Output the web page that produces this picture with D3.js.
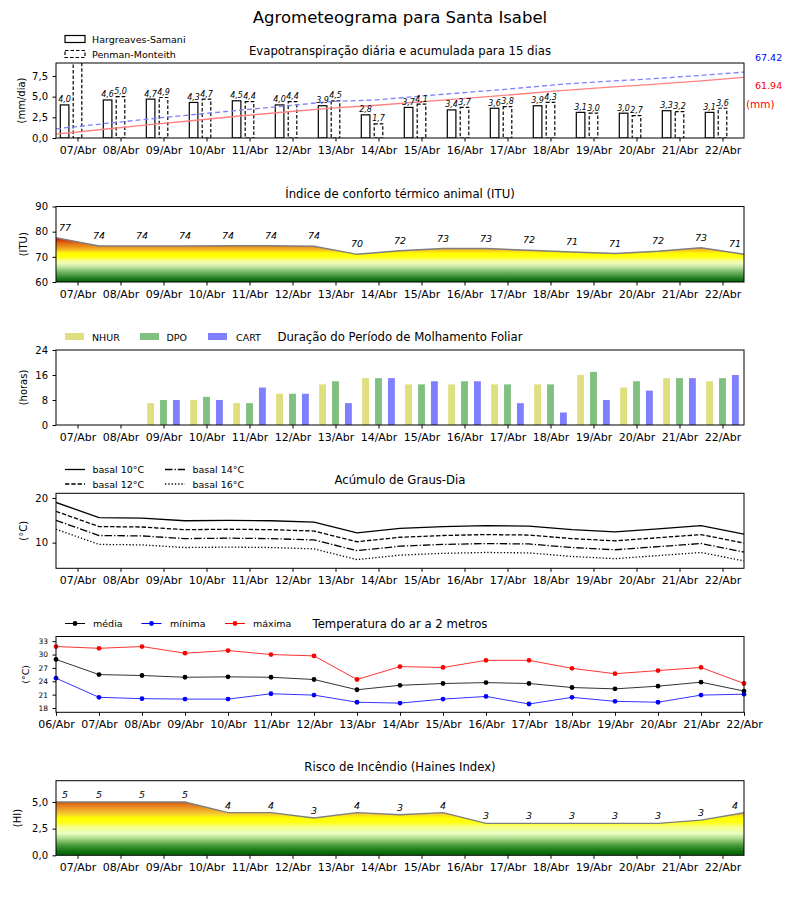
<!DOCTYPE html>
<html>
<head>
<meta charset="utf-8">
<script src="https://cdn.jsdelivr.net/npm/d3@7/dist/d3.min.js"></script>
<style>
  body { margin: 0; background: #fff; }
  text { font-family: "DejaVu Sans", sans-serif; }
</style>
</head>
<body>
<div id="chart"></div>
<script>
// day labels
const days = ["07/Abr", "08/Abr", "09/Abr", "10/Abr", "11/Abr", "12/Abr", "13/Abr", "14/Abr",
    "15/Abr", "16/Abr", "17/Abr", "18/Abr", "19/Abr", "20/Abr", "21/Abr", "22/Abr"];
const tempDays = ["06/Abr"].concat(days);

// evapotranspiration (mm/dia) and accumulated (mm)
const etHS = [4.0, 4.6, 4.7, 4.3, 4.5, 4.0, 3.9, 2.8, 3.7, 3.4, 3.6, 3.9, 3.1, 3.0, 3.3, 3.1];
const etPM = [9.4, 5.0, 4.9, 4.7, 4.4, 4.4, 4.5, 1.7, 4.1, 3.7, 3.8, 4.3, 3.0, 2.7, 3.2, 3.6];
const accHS = [4.0, 8.7, 13.5, 17.9, 22.5, 26.6, 30.6, 33.5, 37.3, 40.8, 44.5, 48.5, 51.7, 54.8, 58.2, 61.94];
const accPM = [9.4, 14.4, 19.3, 24.0, 28.4, 32.8, 37.3, 39.0, 43.1, 46.8, 50.6, 54.9, 57.9, 60.6, 63.8, 67.42];

// ITU (values at day boundaries)
const itu = [77.6, 74.3, 74.3, 74.3, 74.4, 74.4, 74.2, 71.0, 72.4, 73.3, 73.3, 72.6, 71.9, 71.3, 72.2, 73.6, 71.0];
const ituLabels = [77, 74, 74, 74, 74, 74, 74, 70, 72, 73, 73, 72, 71, 71, 72, 73, 71];

// leaf wetness (horas)
const nhur = [0, 0, 7, 8, 7, 10, 13, 15, 13, 13, 13, 13, 16, 12, 15, 14];
const dpo  = [0, 0, 8, 9, 7, 10, 14, 15, 13, 14, 13, 13, 17, 14, 15, 15];
const cart = [0, 0, 8, 8, 12, 10, 7, 15, 14, 14, 7, 4, 8, 11, 15, 16];

// degree-days (°C)
const gd10 = [19.0, 15.6, 15.5, 14.9, 15.0, 14.9, 14.6, 12.2, 13.2, 13.6, 13.8, 13.7, 12.9, 12.4, 13.1, 13.8, 11.9];
const gd12 = [17.0, 13.6, 13.5, 12.9, 13.0, 12.9, 12.6, 10.2, 11.2, 11.6, 11.8, 11.7, 10.9, 10.4, 11.1, 11.8, 9.9];
const gd14 = [15.0, 11.6, 11.5, 10.9, 11.0, 10.9, 10.6, 8.2, 9.2, 9.6, 9.8, 9.7, 8.9, 8.4, 9.1, 9.8, 7.9];
const gd16 = [13.0, 9.6, 9.5, 8.9, 9.0, 8.9, 8.6, 6.2, 7.2, 7.6, 7.8, 7.7, 6.9, 6.4, 7.1, 7.8, 5.9];

// air temperature (°C)
const tMed = [28.9, 25.5, 25.3, 24.9, 25.0, 24.9, 24.4, 22.1, 23.1, 23.5, 23.7, 23.5, 22.6, 22.3, 22.9, 23.8, 21.8];
const tMin = [24.7, 20.4, 20.1, 20.0, 20.0, 21.2, 20.9, 19.3, 19.1, 20.0, 20.6, 18.9, 20.4, 19.5, 19.3, 20.9, 21.1];
const tMax = [31.8, 31.4, 31.8, 30.3, 30.9, 30.0, 29.7, 24.4, 27.3, 27.1, 28.7, 28.7, 26.9, 25.7, 26.4, 27.1, 23.5];

// Haines index
const haines = [5.0, 5.0, 5.0, 5.0, 4.0, 4.0, 3.5, 4.0, 3.8, 4.0, 3.0, 3.0, 3.0, 3.0, 3.0, 3.3, 4.0];
const hainesLabels = [5, 5, 5, 5, 4, 4, 3, 4, 3, 4, 3, 3, 3, 3, 3, 3, 4];

const W = 800, H = 900, left = 56, right = 744;
const comma = d => d3.format(".1f")(d).replace(".", ",");

const svg = d3.select("#chart").append("svg")
    .attr("width", W)
    .attr("height", H);
const defs = svg.append("defs");

const x = d3.scaleLinear().domain([-0.5, 15.5]).range([left, right]);
const edge = i => i - 0.5; // points on day boundaries

svg.append("text")
    .attr("x", 400).attr("y", 23)
    .attr("text-anchor", "middle")
    .style("font-size", "16.5px")
    .text("Agrometeograma para Santa Isabel");

function makePanel(o) {
    const y = d3.scaleLinear().domain(o.domain).range([o.bottom, o.top]);
    const g = svg.append("g");
    const id = "clip" + o.top;
    defs.append("clipPath").attr("id", id)
        .append("rect")
        .attr("x", left).attr("y", o.top)
        .attr("width", right - left).attr("height", o.bottom - o.top);

    g.append("text")
        .attr("x", 400).attr("y", o.titleY)
        .attr("text-anchor", "middle")
        .style("font-size", "11.7px")
        .text(o.title);

    const yAxis = g.append("g")
        .attr("transform", `translate(${left},0)`)
        .call(d3.axisLeft(y).tickValues(o.ticks).tickFormat(o.fmt).tickSize(3.5).tickPadding(4.5));
    yAxis.select(".domain").remove();
    yAxis.selectAll("text").style("font-size", o.tickFont || "10px").attr("font-family", null);

    g.append("text")
        .attr("transform", `translate(${o.labelX},${(o.top + o.bottom) / 2}) rotate(-90)`)
        .attr("text-anchor", "middle")
        .style("font-size", o.labelFont || "10px")
        .text(o.label);

    const xAxis = g.append("g")
        .attr("transform", `translate(0,${o.bottom})`)
        .call(d3.axisBottom(x).tickValues(o.xTicks || d3.range(16))
            .tickFormat((d, i) => (o.xLabels || days)[i]).tickSize(3.5).tickPadding(4.5));
    xAxis.select(".domain").remove();
    xAxis.selectAll("text").style("font-size", "11px").attr("font-family", null);

    const plot = g.append("g").attr("clip-path", `url(#${id})`);
    return { g, y, plot, o };
}

function frame(p) {
    p.g.append("rect")
        .attr("x", left).attr("y", p.o.top)
        .attr("width", right - left).attr("height", p.o.bottom - p.o.top)
        .attr("fill", "none").attr("stroke", "#000").attr("stroke-width", 1);
}

function gradient(id, y, stops) {
    const [d0, d1] = y.domain();
    const gr = defs.append("linearGradient")
        .attr("id", id)
        .attr("gradientUnits", "userSpaceOnUse")
        .attr("x1", 0).attr("x2", 0)
        .attr("y1", y(d0)).attr("y2", y(d1));
    stops.forEach(s => gr.append("stop")
        .attr("offset", (s[0] - d0) / (d1 - d0))
        .attr("stop-color", s[1]));
}

// ---------- 1. Evapotranspiração ----------
const p1 = makePanel({ top: 63, bottom: 138, domain: [0, 9.07], ticks: [0, 2.5, 5, 7.5], fmt: comma,
    title: "Evapotranspiração diária e acumulada para 15 dias", titleY: 55, label: "(mm/dia)", labelX: 25 });
const y2 = d3.scaleLinear().domain([0, 76.7]).range([138, 63]);
const bw = 0.2;

p1.plot.selectAll(".hs").data(etHS).enter().append("rect")
    .attr("x", (d, i) => x(i - 0.3 - bw / 2))
    .attr("y", d => p1.y(d))
    .attr("width", x(bw) - x(0))
    .attr("height", d => p1.y(0) - p1.y(d))
    .attr("fill", "#fff").attr("stroke", "#000").attr("stroke-width", 1.2);

p1.plot.selectAll(".pm").data(etPM).enter().append("rect")
    .attr("x", (d, i) => x(i - bw / 2))
    .attr("y", d => p1.y(d))
    .attr("width", x(bw) - x(0))
    .attr("height", d => p1.y(0) - p1.y(d))
    .attr("fill", "#fff").attr("stroke", "#000").attr("stroke-width", 1.2)
    .attr("stroke-dasharray", "3.5,2");

const accX = i => -0.5 + i * 16 / 15;
p1.plot.append("path").datum(accHS)
    .attr("d", d3.line().x((d, i) => x(accX(i))).y(d => y2(d)))
    .attr("fill", "none").attr("stroke", "#ff8080").attr("stroke-width", 1.3);
p1.plot.append("path").datum(accPM)
    .attr("d", d3.line().x((d, i) => x(accX(i))).y(d => y2(d)))
    .attr("fill", "none").attr("stroke", "#8080ff").attr("stroke-width", 1.3)
    .attr("stroke-dasharray", "5,3");

// bar value labels (the clipped PM bar has none)
[[etHS, -0.3], [etPM, 0]].forEach(([vals, off]) => {
    vals.forEach((v, i) => {
        if (v > 9) return;
        p1.g.append("text")
            .attr("x", x(i + off))
            .attr("y", p1.y(v) - 2.5)
            .attr("text-anchor", "middle")
            .style("font-size", "8px").style("font-style", "italic")
            .text(comma(v));
    });
});

svg.append("text").attr("x", 755).attr("y", 61).style("font-size", "9.5px").attr("fill", "#0000ff")
    .text(accPM[accPM.length - 1].toFixed(2));
svg.append("text").attr("x", 755).attr("y", 89).style("font-size", "9.5px").attr("fill", "#ff0000")
    .text(accHS[accHS.length - 1].toFixed(2));
svg.append("text").attr("x", 746).attr("y", 108).style("font-size", "10.5px").attr("fill", "#ff0000")
    .text("(mm)");

// legend
const lg1 = svg.append("g");
lg1.append("rect").attr("x", 65).attr("y", 35.5).attr("width", 20).attr("height", 7)
    .attr("fill", "#fff").attr("stroke", "#000").attr("stroke-width", 1.2);
lg1.append("rect").attr("x", 65).attr("y", 50.5).attr("width", 20).attr("height", 7)
    .attr("fill", "#fff").attr("stroke", "#000").attr("stroke-width", 1.2).attr("stroke-dasharray", "3.5,2");
lg1.append("text").attr("x", 92).attr("y", 42.5).style("font-size", "9.5px").text("Hargreaves-Samani");
lg1.append("text").attr("x", 92).attr("y", 57.5).style("font-size", "9.5px").text("Penman-Monteith");
frame(p1);

// ---------- 2. ITU ----------
const p2 = makePanel({ top: 206.5, bottom: 282, domain: [60, 90], ticks: [60, 70, 80, 90], fmt: d3.format("d"),
    title: "Índice de conforto térmico animal (ITU)", titleY: 197.5, label: "(ITU)", labelX: 27 });
gradient("ituGrad", p2.y, [
    [60, "#006400"], [61.3, "#1f7a1f"], [62.8, "#4e9e44"], [64.5, "#86c276"], [66, "#c2e6a4"],
    [67.4, "#eef9b8"], [68.6, "#f8ff8a"], [69.6, "#ffff2a"], [70.2, "#ffff00"], [71.2, "#ffff00"],
    [71.9, "#ffe80c"], [72.6, "#f8c420"], [73.4, "#f0a620"], [74.3, "#e88a18"], [75.3, "#e37014"],
    [76.2, "#dc4c08"], [77, "#d21e00"], [78, "#c80000"], [90, "#c00000"]
]);
p2.plot.append("path").datum(itu)
    .attr("d", d3.area().x((d, i) => x(edge(i))).y0(p2.y(60)).y1(d => p2.y(d)))
    .attr("fill", "url(#ituGrad)");
p2.plot.append("path").datum(itu)
    .attr("d", d3.line().x((d, i) => x(edge(i))).y(d => p2.y(d)))
    .attr("fill", "none").attr("stroke", "#7f7f7f").attr("stroke-width", 1.4);
p2.g.selectAll(".itul").data(ituLabels).enter().append("text")
    .attr("x", (d, i) => x(edge(i)) + (i === 0 ? 9 : i === 16 ? -9 : 0))
    .attr("y", (d, i) => p2.y(itu[i]) - 7)
    .attr("text-anchor", "middle")
    .style("font-size", "9.5px").style("font-style", "italic")
    .text(d => d);
frame(p2);

// ---------- 3. Molhamento foliar ----------
const p3 = makePanel({ top: 350, bottom: 425, domain: [0, 24], ticks: [0, 8, 16, 24], fmt: d3.format("d"),
    title: "Duração do Período de Molhamento Foliar", titleY: 340.5, label: "(horas)", labelX: 27 });
const wet = [
    { name: "NHUR", vals: nhur, color: "#dfdf80", off: -0.3 },
    { name: "DPO", vals: dpo, color: "#80c080", off: 0 },
    { name: "CART", vals: cart, color: "#8080ff", off: 0.3 }
];
const bw3 = 0.16;
wet.forEach(s => {
    p3.plot.selectAll(null).data(s.vals).enter().append("rect")
        .attr("x", (d, i) => x(i + s.off - bw3 / 2))
        .attr("y", d => p3.y(d))
        .attr("width", x(bw3) - x(0))
        .attr("height", d => p3.y(0) - p3.y(d))
        .attr("fill", s.color);
});
const lg3x = [[65, 92], [140, 166.5], [208, 236]];
wet.forEach((s, k) => {
    svg.append("rect").attr("x", lg3x[k][0]).attr("y", 333).attr("width", 19).attr("height", 7).attr("fill", s.color);
    svg.append("text").attr("x", lg3x[k][1]).attr("y", 340.5).style("font-size", "9.5px").text(s.name);
});
frame(p3);

// ---------- 4. Graus-dia ----------
const p4 = makePanel({ top: 493.3, bottom: 568.3, domain: [4.25, 21.05], ticks: [10, 20], fmt: d3.format("d"),
    title: "Acúmulo de Graus-Dia", titleY: 484, label: "(°C)", labelX: 27 });
const gd = [
    { name: "basal 10°C", vals: gd10, dash: null, lx: 65, ly: 469.5 },
    { name: "basal 12°C", vals: gd12, dash: "4.4,1.9", lx: 65, ly: 484 },
    { name: "basal 14°C", vals: gd14, dash: "7.5,2,1.3,2", lx: 165, ly: 469.5 },
    { name: "basal 16°C", vals: gd16, dash: "1.3,2", lx: 165, ly: 484 }
];
gd.forEach(s => {
    p4.plot.append("path").datum(s.vals)
        .attr("d", d3.line().x((d, i) => x(edge(i))).y(d => p4.y(d)))
        .attr("fill", "none").attr("stroke", "#000").attr("stroke-width", 1.3)
        .attr("stroke-dasharray", s.dash);
    svg.append("line").attr("x1", s.lx).attr("x2", s.lx + 20).attr("y1", s.ly).attr("y2", s.ly)
        .attr("stroke", "#000").attr("stroke-width", 1.3).attr("stroke-dasharray", s.dash);
    svg.append("text").attr("x", s.lx + 27.5).attr("y", s.ly + 3.5).style("font-size", "9.5px").text(s.name);
});
frame(p4);

// ---------- 5. Temperatura ----------
const p5 = makePanel({ top: 636.5, bottom: 712.3, domain: [17.04, 34.05], ticks: [18, 21, 24, 27, 30, 33],
    fmt: d3.format("d"), tickFont: "7.5px",
    title: "Temperatura do ar a 2 metros", titleY: 628, label: "(°C)", labelX: 29, labelFont: "9.5px",
    xTicks: d3.range(17).map(edge), xLabels: tempDays });
const temps = [
    { name: "média", vals: tMed, color: "#000000", lx: 65, tx: 93 },
    { name: "mínima", vals: tMin, color: "#0000ff", lx: 141.5, tx: 170 },
    { name: "máxima", vals: tMax, color: "#ff0000", lx: 225, tx: 253 }
];
temps.forEach(s => {
    p5.g.append("path").datum(s.vals)
        .attr("d", d3.line().x((d, i) => x(edge(i))).y(d => p5.y(d)))
        .attr("fill", "none").attr("stroke", s.color).attr("stroke-width", 1).attr("stroke-opacity", 0.8);
    p5.g.selectAll(null).data(s.vals).enter().append("circle")
        .attr("cx", (d, i) => x(edge(i)))
        .attr("cy", d => p5.y(d))
        .attr("r", 2.4)
        .attr("fill", s.color);
    svg.append("line").attr("x1", s.lx).attr("x2", s.lx + 20).attr("y1", 623.5).attr("y2", 623.5)
        .attr("stroke", s.color).attr("stroke-width", 1);
    svg.append("circle").attr("cx", s.lx + 10).attr("cy", 623.5).attr("r", 2.4).attr("fill", s.color);
    svg.append("text").attr("x", s.tx).attr("y", 627).style("font-size", "9.5px").text(s.name);
});
frame(p5);

// ---------- 6. Haines ----------
const p6 = makePanel({ top: 780.7, bottom: 855.3, domain: [0, 7], ticks: [0, 2.5, 5], fmt: comma,
    title: "Risco de Incêndio (Haines Index)", titleY: 771, label: "(HI)", labelX: 21 });
gradient("hiGrad", p6.y, [
    [0, "#006400"], [0.35, "#117011"], [1.0, "#4fa040"], [1.6, "#b0dc90"], [2.05, "#eaffc4"],
    [2.7, "#f8ff80"], [3.1, "#ffff10"], [3.5, "#ffff00"], [3.85, "#f8d030"], [4.25, "#f0a828"],
    [4.65, "#e68020"], [5.0, "#d05a10"], [7, "#c04000"]
]);
p6.plot.append("path").datum(haines)
    .attr("d", d3.area().x((d, i) => x(edge(i))).y0(p6.y(0)).y1(d => p6.y(d)))
    .attr("fill", "url(#hiGrad)");
p6.plot.append("path").datum(haines)
    .attr("d", d3.line().x((d, i) => x(edge(i))).y(d => p6.y(d)))
    .attr("fill", "none").attr("stroke", "#7f7f7f").attr("stroke-width", 1.4);
p6.g.selectAll(".hil").data(hainesLabels).enter().append("text")
    .attr("x", (d, i) => x(edge(i)) + (i === 0 ? 9 : i === 16 ? -9 : 0))
    .attr("y", (d, i) => p6.y(haines[i]) - 4)
    .attr("text-anchor", "middle")
    .style("font-size", "9.5px").style("font-style", "italic")
    .text(d => d);
frame(p6);
</script>
</body>
</html>
